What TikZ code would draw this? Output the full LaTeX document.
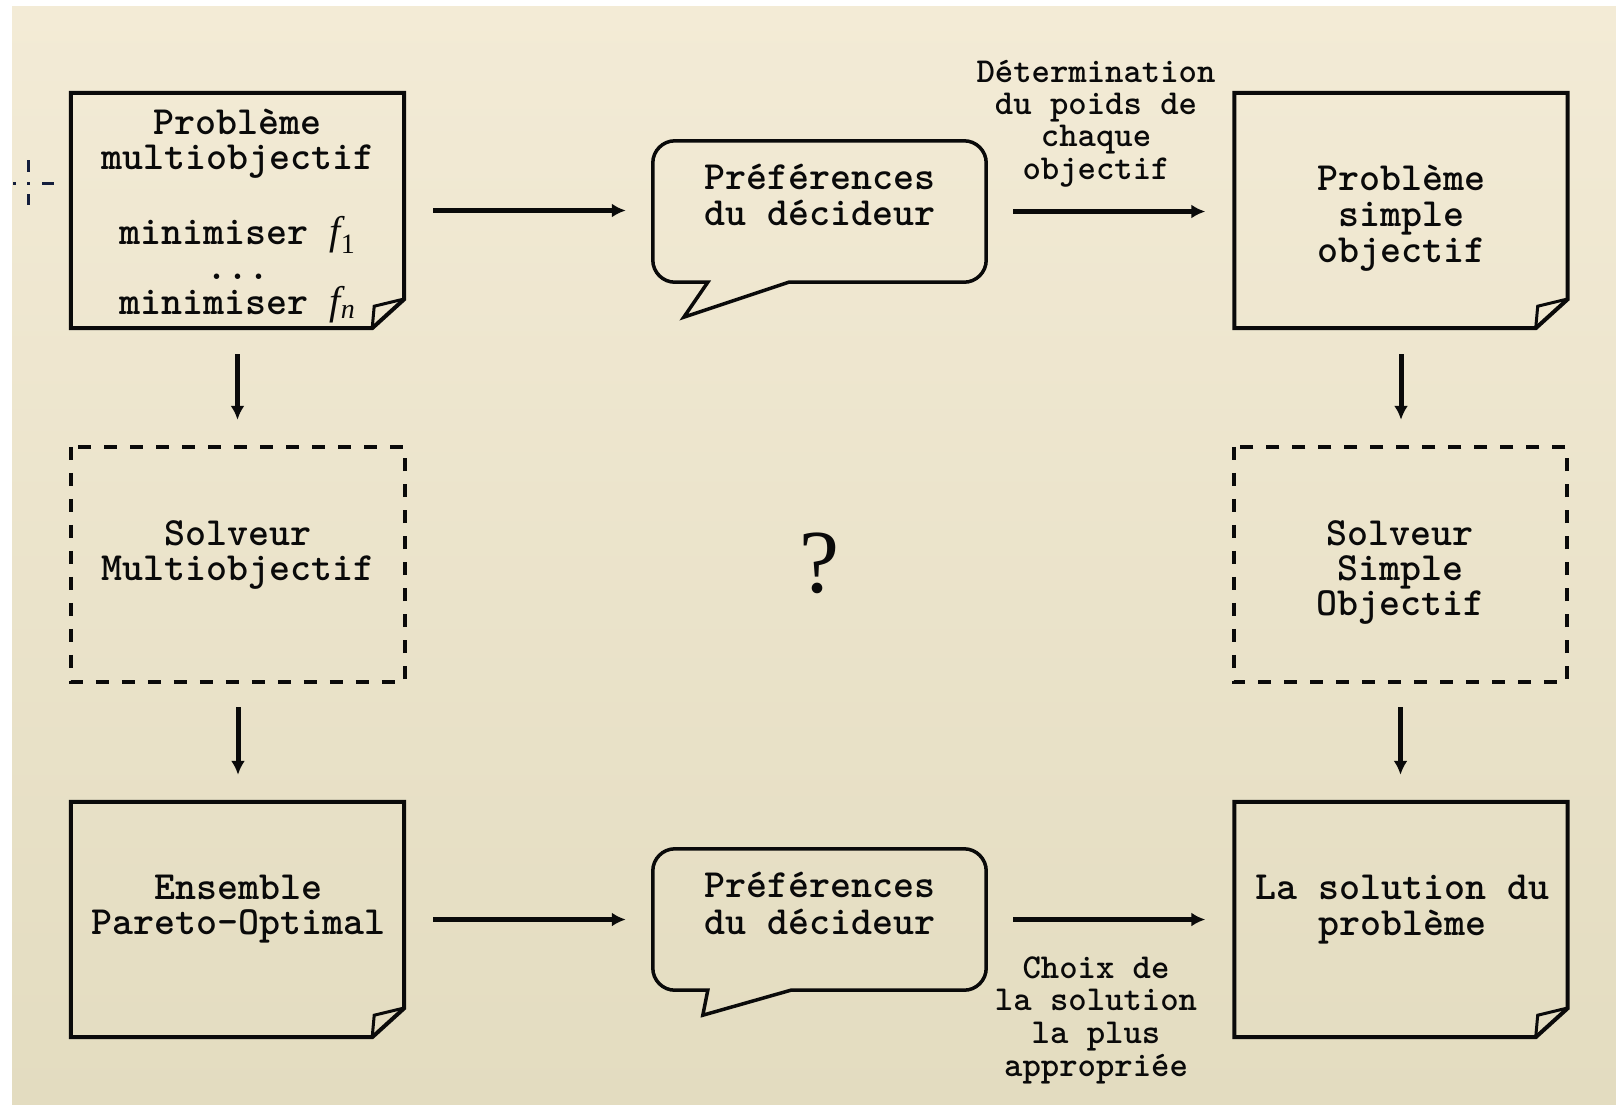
\documentclass[tikz,border=0pt]{standalone}
\usepackage{fontspec}
\setmainfont{Liberation Serif}
\usetikzlibrary{arrows.meta}
\definecolor{bgtop}{RGB}{243,235,214}
\definecolor{bgmid}{RGB}{252,239,212}
\definecolor{bgbot}{RGB}{227,220,192}
\definecolor{inkc}{RGB}{10,10,10}
\newcommand\docpage[1]{%
  \draw[outline] (#1.north west) -- (#1.north east) -- ([yshift=29pt]#1.south east)
     -- ([xshift=-32pt]#1.south east) -- (#1.south west) -- cycle;
  \draw[outline, line width=3pt] ([xshift=-32pt]#1.south east) -- ([xshift=-30pt,yshift=22pt]#1.south east)
     -- ([xshift=-1pt,yshift=29pt]#1.south east);}
\newcommand\bubble[4]{%
  \draw[outline, line width=3.5pt] ([xshift=55pt]#1.south west) -- ([xshift=22pt]#1.south west)
    .. controls ([xshift=10pt]#1.south west) and ([yshift=10pt]#1.south west) .. ([yshift=22pt]#1.south west)
    -- ([yshift=-22pt]#1.north west)
    .. controls ([yshift=-10pt]#1.north west) and ([xshift=10pt]#1.north west) .. ([xshift=22pt]#1.north west)
    -- ([xshift=-22pt]#1.north east)
    .. controls ([xshift=-10pt]#1.north east) and ([yshift=-10pt]#1.north east) .. ([yshift=-22pt]#1.north east)
    -- ([yshift=22pt]#1.south east)
    .. controls ([yshift=10pt]#1.south east) and ([xshift=-10pt]#1.south east) .. ([xshift=-22pt]#1.south east)
    -- ([xshift=#4]#1.south west) -- ([xshift=#2,yshift=-#3]#1.south west) -- cycle;}
\newcommand\fsub[1]{{\rmfamily\mdseries\itshape f}\textsubscript{\rmfamily\mdseries #1}}
\begin{document}
\begin{tikzpicture}[x=1pt,y=-1pt,
  box/.style={draw=none, minimum width=333pt, minimum height=235pt, inner sep=0pt},
  bub/.style={draw=none, minimum width=333pt, minimum height=141pt, inner sep=0pt},
  txt/.style={font=\ttfamily\bfseries\fontsize{40}{36}\selectfont, align=center, inner sep=0pt, anchor=base, text=inkc},
  lbl/.style={font=\ttfamily\bfseries\fontsize{35}{32.3}\selectfont, align=center, inner sep=0pt, anchor=base, text=inkc},
  outline/.style={draw=inkc, line width=4pt, line join=miter},
  dashline/.style={draw=inkc, line width=4pt, dash pattern=on 13pt off 13pt},
  arr/.style={draw=inkc, line width=5pt, -{Latex[length=14pt,width=14pt]}},
]
\useasboundingbox (0,0) rectangle (1616,1104);
\fill[white] (0,0) rectangle (1616,1104);
\shade[top color=bgtop, middle color=bgmid, bottom color=bgbot] (12,6) rectangle (1616,1104);

% crosshair
\draw[line width=3pt, draw={rgb,255:red,20;green,30;blue,60}]
  (28,160) -- (28,172) (28,194) -- (28,205) (13,183) -- (16,183) (27,183) -- (30,183) (42,183) -- (54,183);

% anchor nodes
\node[box] (pm)  at (237.5,210.5) {};
\node[box] (ps)  at (1401,210.5) {};
\node[box] (ens) at (237.5,919.5) {};
\node[box] (sol) at (1401,919.5) {};
\node[box] (smo) at (238,564.5) {};
\node[box] (sso) at (1400.5,564.5) {};
\node[bub] (pref1) at (819.5,211.5) {};
\node[bub] (pref2) at (819.5,919.5) {};

% shapes
\docpage{pm}
\docpage{ps}
\docpage{ens}
\docpage{sol}
\draw[dashline] (smo.north west) rectangle (smo.south east);
\draw[dashline] (sso.north west) rectangle (sso.south east);
\bubble{pref1}{31pt}{35pt}{136pt}
\bubble{pref2}{50pt}{25pt}{138pt}

% texts (anchored at the baseline of their last line)
\node[txt, font=\ttfamily\bfseries\fontsize{40}{35}\selectfont] (tpm) at (237.5,314) {Problème\\multiobjectif\\[36pt]minimiser \fsub{1}\\...\\minimiser \fsub{\itshape n}};
\node[txt] (tps) at (1401,262) {Problème\\simple\\objectif};
\node[txt] (tp1) at (820,225) {Préférences\\du décideur};
\node[txt, font=\ttfamily\bfseries\fontsize{40}{37}\selectfont] (tp2) at (820,934) {Préférences\\du décideur};
\node[txt, font=\ttfamily\bfseries\fontsize{40}{35}\selectfont] (tens) at (238,934) {Ensemble\\Pareto-Optimal};
\node[txt] (tsol) at (1402,935) {La solution du\\problème};
\node[txt, font=\ttfamily\bfseries\fontsize{40}{35}\selectfont] (tsmo) at (238,580) {Solveur\\Multiobjectif};
\node[txt, font=\ttfamily\bfseries\fontsize{40}{35}\selectfont] (tsso) at (1400,615) {Solveur\\Simple\\Objectif};
\node[lbl] (ldet) at (1096,179) {Détermination\\du poids de\\chaque\\objectif};
\node[lbl, font=\ttfamily\bfseries\fontsize{35}{32.6}\selectfont] (lcho) at (1096,1076) {Choix de\\la solution\\la plus\\appropriée};
\node[font=\fontsize{90}{90}\selectfont, inner sep=0pt, text=inkc] (q) at (819,563) {?};

% connectors
\draw[arr, shorten <=29pt, shorten >=27pt] (pm.east) -- (pm.east -| pref1.west);
\draw[arr, shorten <=27pt, shorten >=29pt] (pref1.east) -- (pref1.east -| ps.west);
\draw[arr, shorten <=29pt, shorten >=27pt] (ens.east) -- (ens.east -| pref2.west);
\draw[arr, shorten <=27pt, shorten >=29pt] (pref2.east) -- (pref2.east -| sol.west);
\draw[arr, shorten <=26pt, shorten >=27pt] (pm.south) -- (pm.south |- smo.north);
\draw[arr, shorten <=25pt, shorten >=27pt] (smo.south) -- (smo.south |- ens.north);
\draw[arr, shorten <=26pt, shorten >=27pt] (ps.south) -- (ps.south |- sso.north);
\draw[arr, shorten <=25pt, shorten >=27pt] (sso.south) -- (sso.south |- sol.north);
\end{tikzpicture}
\end{document}
